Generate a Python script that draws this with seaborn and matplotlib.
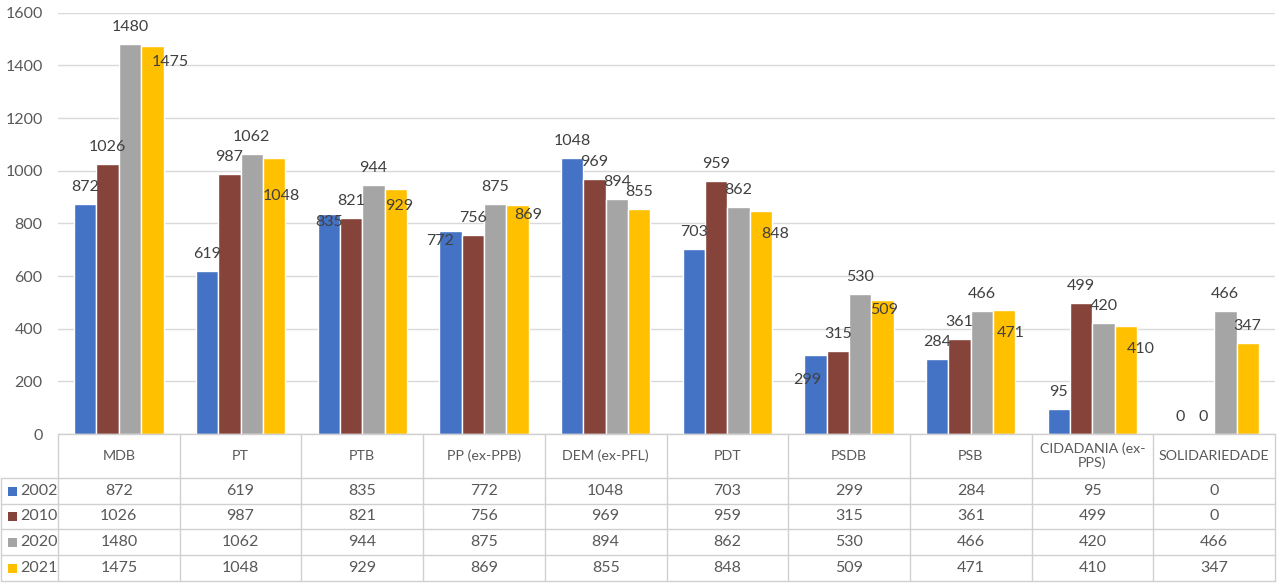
import pandas as pd
import seaborn as sns
import matplotlib.pyplot as plt
from matplotlib.lines import Line2D
from matplotlib.patches import Rectangle

parties = ['MDB', 'PT', 'PTB', 'PP (ex-PPB)', 'DEM (ex-PFL)', 'PDT', 'PSDB', 'PSB',
           'CIDADANIA (ex-\nPPS)', 'SOLIDARIEDADE']
years = ['2002', '2010', '2020', '2021']
v2002 = [872, 619, 835, 772, 1048, 703, 299, 284, 95, 0]
v2010 = [1026, 987, 821, 756, 969, 959, 315, 361, 499, 0]
v2020 = [1480, 1062, 944, 875, 894, 862, 530, 466, 420, 466]
v2021 = [1475, 1048, 929, 869, 855, 848, 509, 471, 410, 347]

colors = {'2002': '#4472C4', '2010': '#86433A', '2020': '#A5A5A5', '2021': '#FFC000'}

rows = []
for yr, vals in zip(years, [v2002, v2010, v2020, v2021]):
    for p, v in zip(parties, vals):
        rows.append({'party': p, 'year': yr, 'value': v})
df = pd.DataFrame(rows)

sns.set_theme(style='white')
plt.rcParams['font.family'] = ['Lato', 'DejaVu Sans']
FS = 11.5      # numbers
FS_TXT = 10.3  # party names in the table header

W, H = 1280, 583
fig = plt.figure(figsize=(W / 100, H / 100), dpi=100)
# plot area in pixels: x 58..1275, y 12.7..434
x0, x1, ytop, ybot = 58, 1275, 12.7, 434
ax = fig.add_axes([x0 / W, 1 - ybot / H, (x1 - x0) / W, (ybot - ytop) / H])

sns.barplot(data=df, x='party', y='value', hue='year', hue_order=years, order=parties,
            palette=colors, width=0.735, saturation=1, errorbar=None, legend=False, ax=ax)

ax.set_ylim(0, 1600)
ax.set_xlim(-0.5, len(parties) - 0.5)
ax.set_yticks(range(0, 1601, 200))
ax.tick_params(axis='y', length=0, pad=11, labelsize=FS, labelcolor='#595959')
ax.set_xticks([])
ax.set_xlabel('')
ax.set_ylabel('')
ax.yaxis.grid(True, color='#D9D9D9', lw=1)
ax.set_axisbelow(True)
for s in ax.spines.values():
    s.set_visible(False)

# data labels (pixel offsets from the bar top, mimicking Excel's placement)
label_shift = {
    ('MDB', '2021'): (18, -16),
    ('PT', '2021'): (7, -38),
    ('PTB', '2002'): (0, -8),
    ('PTB', '2021'): (3, -17),
    ('PP (ex-PPB)', '2002'): (-10, -10),
    ('PP (ex-PPB)', '2021'): (11, -10),
    ('PDT', '2021'): (14, -23),
    ('PSDB', '2002'): (-8, -25),
    ('PSDB', '2021'): (2, -10),
    ('PSB', '2021'): (6, -23),
    ('CIDADANIA (ex-\nPPS)', '2021'): (15, -23),
}
for yr, cont in zip(years, ax.containers):
    for p, bar in zip(parties, cont):
        h = bar.get_height()
        dx, dy = label_shift.get((p, yr), (0, 17))
        ax.annotate(f'{int(h)}', (bar.get_x() + bar.get_width() / 2, h),
                    xytext=(dx, dy), textcoords='offset pixels',
                    ha='center', va='center', fontsize=FS, color='#404040',
                    annotation_clip=False)

# data table below the chart
def fx(x):
    return x / W

def fy(y):
    return 1 - y / H

line_col = '#D0D0D0'
col_w = (x1 - x0) / len(parties)
row_edges = [478, 504, 529, 555, 581]

fig.add_artist(Line2D([fx(x0), fx(x1)], [fy(ybot), fy(ybot)], color=line_col, lw=1))
for ry in row_edges:
    fig.add_artist(Line2D([fx(1), fx(x1)], [fy(ry), fy(ry)], color=line_col, lw=1))
fig.add_artist(Line2D([fx(1), fx(1)], [fy(row_edges[0]), fy(row_edges[-1])], color=line_col, lw=1))
for k in range(len(parties) + 1):
    cx = x0 + k * col_w
    fig.add_artist(Line2D([fx(cx), fx(cx)], [fy(ybot), fy(row_edges[-1])], color=line_col, lw=1))

for i, p in enumerate(parties):
    cx = x0 + (i + 0.5) * col_w
    fig.text(fx(cx), fy((ybot + row_edges[0]) / 2), p, ha='center', va='center',
             fontsize=FS_TXT, color='#595959', linespacing=1.15)

for r, (yr, vals) in enumerate(zip(years, [v2002, v2010, v2020, v2021])):
    cy = (row_edges[r] + row_edges[r + 1]) / 2
    fig.add_artist(Rectangle((fx(7.5), fy(cy + 4.5)), 9 / W, 9 / H,
                             transform=fig.transFigure, color=colors[yr], lw=0))
    fig.text(fx(20), fy(cy), yr, ha='left', va='center', fontsize=FS, color='#595959')
    for i, v in enumerate(vals):
        cx = x0 + (i + 0.5) * col_w
        fig.text(fx(cx), fy(cy), str(v), ha='center', va='center',
                 fontsize=FS, color='#595959')

fig.savefig('out.png', dpi=100, facecolor='white')
